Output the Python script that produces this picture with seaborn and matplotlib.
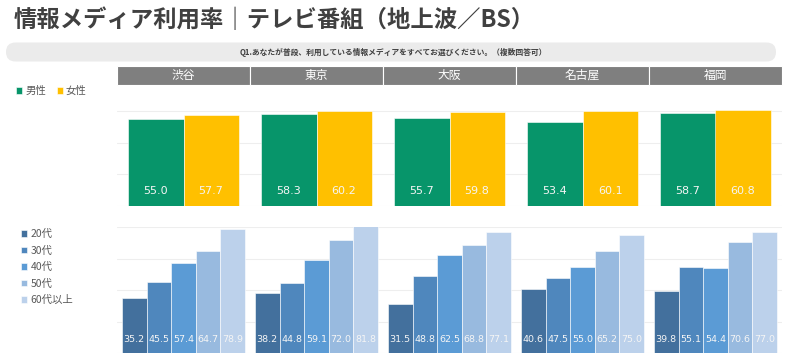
import matplotlib
matplotlib.use("Agg")
import matplotlib.pyplot as plt
import seaborn as sns
import pandas as pd
from matplotlib.patches import FancyBboxPatch, Rectangle

# ---------------- data ----------------
cities = ["渋谷", "東京", "大阪", "名古屋", "福岡"]
genders = ["男性", "女性"]
male = [55.0, 58.3, 55.7, 53.4, 58.7]
female = [57.7, 60.2, 59.8, 60.1, 60.8]
ages = ["20代", "30代", "40代", "50代", "60代以上"]
age20 = [35.2, 38.2, 31.5, 40.6, 39.8]
age30 = [45.5, 44.8, 48.8, 47.5, 55.1]
age40 = [57.4, 59.1, 62.5, 55.0, 54.4]
age50 = [64.7, 72.0, 68.8, 65.2, 70.6]
age60 = [78.9, 81.8, 77.1, 75.0, 77.0]

title = "情報メディア利用率｜テレビ番組（地上波／BS）"
question = "Q1.あなたが普段、利用している情報メディアをすべてお選びください。（複数回答可）"

gender_colors = ["#07956a", "#ffc000"]
age_colors = ["#43709d", "#4f87bd", "#5b9bd5", "#98badf", "#bcd1eb"]

sns.set_theme(style="white")
plt.rcParams["font.family"] = ["Noto Sans CJK JP", "DejaVu Sans"]

df_g = pd.DataFrame({
    "city": cities * 2,
    "gender": [genders[0]] * 5 + [genders[1]] * 5,
    "value": male + female,
})
age_vals = [age20, age30, age40, age50, age60]
df_a = pd.DataFrame({
    "city": [c for _ in ages for c in cities],
    "age": [a for a in ages for _ in cities],
    "value": [v for vals in age_vals for v in vals],
})

W, H = 800, 364
fig = plt.figure(figsize=(8, 3.64), dpi=100)

def fx(px):
    return px / W

def fy(py):
    return 1 - py / H

# background / decoration axes in pixel coords
bg = fig.add_axes([0, 0, 1, 1], zorder=0)
bg.set_xlim(0, W)
bg.set_ylim(H, 0)
bg.axis("off")

bg.text(14, 20, title, fontsize=16.8, fontweight="bold", color="#404040",
        va="center", ha="left")
bg.add_patch(FancyBboxPatch((6, 42.5), 770, 19, boxstyle="round,pad=0,rounding_size=9.5",
                            facecolor="#ebebeb", edgecolor="none"))
bg.text(393, 52, question, fontsize=5.6, color="#404040", ha="center", va="center",
        fontweight="bold")

# header cells
x0, cw = 117, 133
for i, c in enumerate(cities):
    bg.add_patch(Rectangle((x0 + i * cw, 65.5), cw, 19, facecolor="#7f7f7f",
                           edgecolor="white", linewidth=0.8))
    bg.text(x0 + i * cw + cw / 2, 75, c, fontsize=8.5, color="white",
            ha="center", va="center")

# ---------------- top chart ----------------
top_y0, top_y1 = 85.0, 205.7
ax1 = fig.add_axes([fx(117), fy(top_y1), fx(665), (top_y1 - top_y0) / H], zorder=1)
sns.barplot(data=df_g, x="city", y="value", hue="gender", order=cities,
            hue_order=genders, palette=gender_colors, width=0.83, gap=0,
            edgecolor="white", linewidth=0.4, ax=ax1, errorbar=None, saturation=1)
ax1.set_xlim(-0.5, 4.5)
ax1.set_ylim(0, 76.7)
ax1.set_yticks([0, 20, 40, 60])
ax1.grid(axis="y", color="#eeeeee", linewidth=0.8)
ax1.set_axisbelow(True)
for s in ax1.spines.values():
    s.set_visible(False)
ax1.set_xticks([])
ax1.set_yticklabels([])
ax1.tick_params(left=False, bottom=False)
ax1.set_xlabel("")
ax1.set_ylabel("")
ax1.patch.set_alpha(0)
for cont in ax1.containers:
    for bar, v in zip(cont, cont.datavalues):
        ax1.text(bar.get_x() + bar.get_width() / 2, 9.5, f"{v:.1f}", fontsize=8,
                 color="#f5f5f5", ha="center", va="center", family="DejaVu Sans")
h, l = ax1.get_legend_handles_labels()
ax1.legend(h, l, loc="center left", bbox_to_anchor=(fx(16), fy(91)),
           bbox_transform=fig.transFigure, ncol=2, frameon=False, fontsize=7.5,
           handlelength=0.6, handleheight=0.6, handletextpad=0.3, columnspacing=1.0,
           labelcolor="#595959", borderaxespad=0, borderpad=0)

# ---------------- bottom chart ----------------
bot_y0, bot_y1 = 227.3, 353.3
ax2 = fig.add_axes([fx(117), fy(bot_y1), fx(665), (bot_y1 - bot_y0) / H], zorder=1)
sns.barplot(data=df_a, x="city", y="value", hue="age", order=cities,
            hue_order=ages, palette=age_colors, width=0.927, gap=0,
            edgecolor="white", linewidth=0.4, ax=ax2, errorbar=None, saturation=1)
ax2.set_xlim(-0.5, 4.5)
ax2.set_ylim(0, 80)
ax2.set_yticks([0, 20, 40, 60, 80])
ax2.grid(axis="y", color="#eeeeee", linewidth=0.8)
ax2.set_axisbelow(True)
for s in ax2.spines.values():
    s.set_visible(False)
ax2.set_xticks([])
ax2.set_yticklabels([])
ax2.tick_params(left=False, bottom=False)
ax2.set_xlabel("")
ax2.set_ylabel("")
ax2.patch.set_alpha(0)
for cont in ax2.containers:
    for bar, v in zip(cont, cont.datavalues):
        ax2.text(bar.get_x() + bar.get_width() / 2, 8.5, f"{v:.1f}", fontsize=6.8,
                 color="#f5f5f5", ha="center", va="center", family="DejaVu Sans")
h, l = ax2.get_legend_handles_labels()
ax2.legend(h, l, loc="upper left", bbox_to_anchor=(fx(21), fy(229)),
           bbox_transform=fig.transFigure, ncol=1, frameon=False, fontsize=7.5,
           handlelength=0.6, handleheight=0.6, handletextpad=0.3, labelspacing=0.62,
           labelcolor="#595959", borderaxespad=0, borderpad=0)

fig.savefig("out.png", dpi=100)
